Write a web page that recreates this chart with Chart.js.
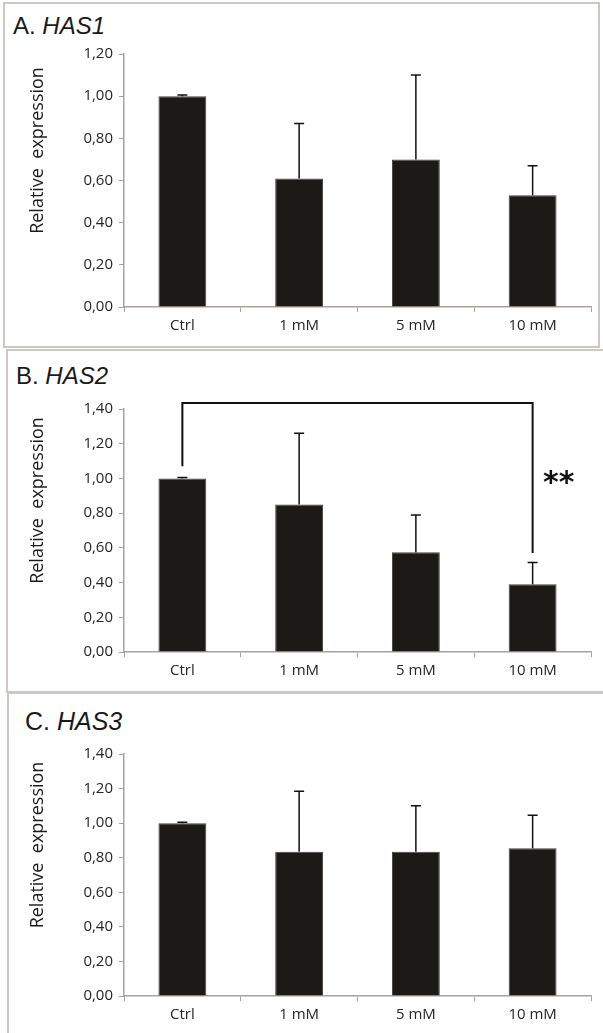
<!DOCTYPE html>
<html lang="en">
<head>
<meta charset="UTF-8">
<title>HAS expression</title>
<script src="https://cdn.jsdelivr.net/npm/chart.js"></script>
<style>
    body { margin: 0; background: #fff; width: 603px; height: 1033px; overflow: hidden; position: relative; }
    .panel { position: absolute; border: 2px solid #cfc7c3; box-sizing: border-box; }
    .title { position: absolute; font-family: 'Liberation Sans', Arial, sans-serif; color: #1a1a1a; line-height: 1; white-space: nowrap; }
    .title i { font-style: italic; }
    canvas { position: absolute; left: 0; }
</style>
</head>
<body>
<div class="panel" style="left:3px; top:2px; width:597px; height:346px;"></div>
<div class="panel" style="left:6px; top:349px; width:600px; height:344px;"></div>
<div class="panel" style="left:7px; top:692px; width:600px; height:360px;"></div>

<div class="title" style="left:13px; top:14px; font-size:24px;">A. <i>HAS1</i></div>
<div class="title" style="left:16px; top:364px; font-size:24px;">B. <i>HAS2</i></div>
<div class="title" style="left:25px; top:709px; font-size:25px;">C. <i>HAS3</i></div>

<canvas id="chartA" style="top:0px;"></canvas>
<canvas id="chartB" style="top:347px;"></canvas>
<canvas id="chartC" style="top:692px;"></canvas>

<script>
    const categories = ['Ctrl', '1 mM', '5 mM', '10 mM'];

    const has1Mean = [1.00, 0.61, 0.70, 0.53];
    const has1Err  = [0.005, 0.26, 0.40, 0.14];

    const has2Mean = [1.00, 0.85, 0.575, 0.39];
    const has2Err  = [0.005, 0.41, 0.215, 0.125];

    const has3Mean = [1.00, 0.835, 0.835, 0.855];
    const has3Err  = [0.005, 0.35, 0.265, 0.19];

    // significance bracket in HAS2 (Ctrl vs 10 mM)
    const sigPair = [0, 3];
    const sigLegs = [1.07, 0.57];
    const sigTop = 1.435;
    const sigLabel = '**';

    const tickFont = { family: "'Open Sans', sans-serif", size: 15 };
    const axisGrey = '#a8a29f';

    // upper error bars
    const errorBars = {
        id: 'errorBars',
        afterDatasetsDraw(chart) {
            const errs = chart.options.plugins.errorBars.values;
            const meta = chart.getDatasetMeta(0);
            const y = chart.scales.y;
            const c = chart.ctx;
            c.save();
            c.strokeStyle = '#111';
            c.lineWidth = 1.5;
            meta.data.forEach((bar, i) => {
                const v = chart.data.datasets[0].data[i];
                const top = y.getPixelForValue(v + errs[i]);
                c.beginPath();
                c.moveTo(bar.x, bar.y);
                c.lineTo(bar.x, top);
                c.moveTo(bar.x - 5, top);
                c.lineTo(bar.x + 5, top);
                c.stroke();
            });
            c.restore();
        }
    };

    // y axis title, a bit above centre like the original
    const yTitle = {
        id: 'yTitle',
        afterDraw(chart) {
            const a = chart.chartArea;
            const c = chart.ctx;
            c.save();
            c.translate(38, (a.top + a.bottom) / 2 - 30);
            c.rotate(-Math.PI / 2);
            c.font = "18px 'Open Sans', sans-serif";
            c.fillStyle = '#1a1a1a';
            c.textAlign = 'center';
            c.textBaseline = 'middle';
            c.fillText('Relative  expression', 0, 0);
            c.restore();
        }
    };

    const bracket = {
        id: 'bracket',
        afterDatasetsDraw(chart) {
            if (!chart.options.plugins.bracket.show) return;
            const meta = chart.getDatasetMeta(0);
            const y = chart.scales.y;
            const c = chart.ctx;
            const x1 = meta.data[sigPair[0]].x;
            const x2 = meta.data[sigPair[1]].x;
            const yt = y.getPixelForValue(sigTop);
            c.save();
            c.strokeStyle = '#111';
            c.lineWidth = 2;
            c.beginPath();
            c.moveTo(x1, y.getPixelForValue(sigLegs[0]));
            c.lineTo(x1, yt);
            c.lineTo(x2, yt);
            c.lineTo(x2, y.getPixelForValue(sigLegs[1]));
            c.stroke();
            c.font = "bold 30px 'DejaVu Sans', sans-serif";
            c.fillStyle = '#111';
            c.textAlign = 'center';
            c.textBaseline = 'middle';
            c.fillText(sigLabel, x2 + 26, y.getPixelForValue(1.0) + 6);
            c.restore();
        }
    };

    function makeChart(id, height, top, bottom, means, errs, yMax, showBracket) {
        const cv = document.getElementById(id);
        cv.width = 603;
        cv.height = height;
        cv.style.width = '603px';
        cv.style.height = height + 'px';
        return new Chart(cv, {
            type: 'bar',
            data: {
                labels: categories,
                datasets: [{
                    data: means,
                    backgroundColor: '#1b1a17',
                    borderColor: '#46423f',
                    borderWidth: 1,
                    categoryPercentage: 1,
                    barPercentage: 0.41
                }]
            },
            options: {
                responsive: false,
                animation: false,
                layout: { padding: { left: 20, right: 12, top: top, bottom: 0 } },
                plugins: {
                    legend: { display: false },
                    tooltip: { enabled: false },
                    errorBars: { values: errs },
                    bracket: { show: showBracket }
                },
                scales: {
                    x: {
                        grid: { offset: true, drawOnChartArea: false, drawTicks: true, tickLength: 5, color: axisGrey },
                        border: { color: axisGrey, width: 1.5 },
                        ticks: { font: tickFont, color: '#262626', padding: 5, maxRotation: 0 },
                        afterFit: s => { s.height = height - bottom; }
                    },
                    y: {
                        min: 0,
                        max: yMax,
                        grid: { drawOnChartArea: false, drawTicks: true, tickLength: 5, color: axisGrey },
                        border: { color: axisGrey, width: 1.5 },
                        ticks: {
                            stepSize: 0.2,
                            font: tickFont,
                            color: '#262626',
                            padding: 6,
                            callback: v => v.toFixed(2).replace('.', ',')
                        },
                        afterFit: s => { s.width = 104; }
                    }
                }
            },
            plugins: [errorBars, yTitle, bracket]
        });
    }

    makeChart('chartA', 347, 54, 307, has1Mean, has1Err, 1.2, false);
    makeChart('chartB', 345, 62, 305, has2Mean, has2Err, 1.4, true);
    makeChart('chartC', 341, 62, 304, has3Mean, has3Err, 1.4, false);
</script>
</body>
</html>
